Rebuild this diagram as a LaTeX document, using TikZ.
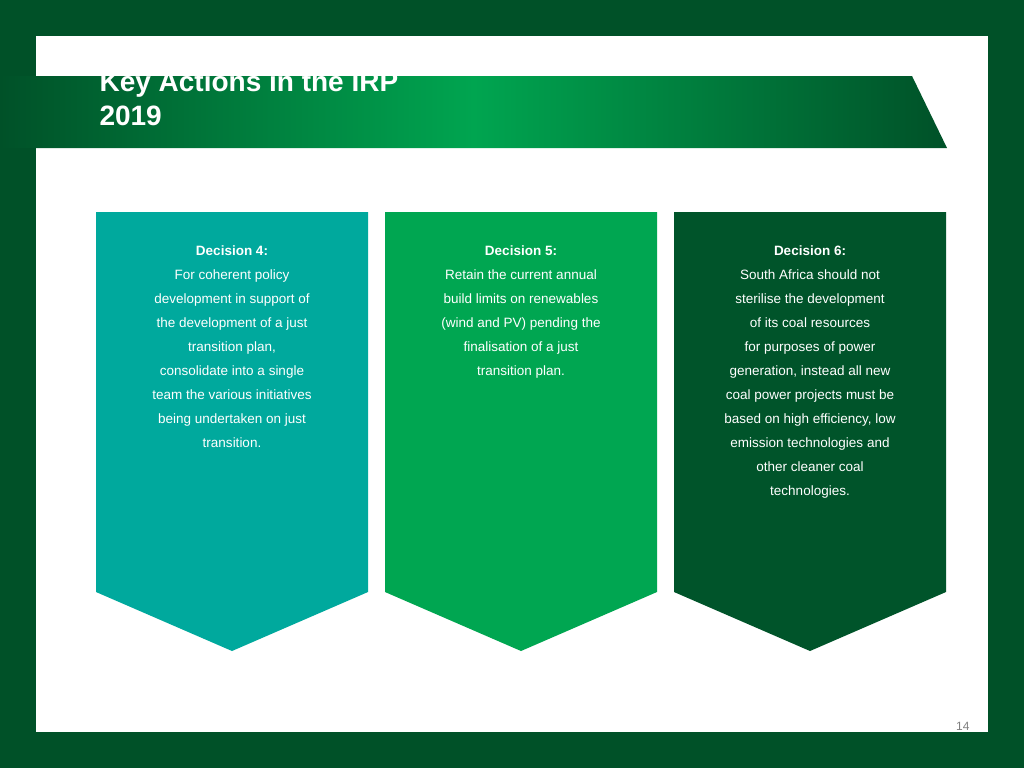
\documentclass[tikz,border=0pt]{standalone}
\usepackage{fontspec}
\setmainfont{Liberation Sans}
\definecolor{bgdark}{HTML}{005128}
\definecolor{teal}{HTML}{00A99D}
\definecolor{midgreen}{HTML}{00A651}
\definecolor{darkg}{HTML}{00542A}
\definecolor{bright}{HTML}{00A550}
\tikzset{
 txt/.style={text=white,align=center,font=\fontsize{13.5}{24}\selectfont,anchor=north},
 head/.style={font=\fontsize{13.5}{24}\selectfont\bfseries}
}
\begin{document}
\begin{tikzpicture}[x=1pt,y=-1pt]
\useasboundingbox (0,0) rectangle (1024,768);
\fill[bgdark] (0,0) rectangle (1024,768);
\fill[white] (36,36) rectangle (988,732);
% banner
\begin{scope}
\clip (0,76) -- (912,76) -- (947,148) -- (0,148) -- cycle;
\shade[left color=bgdark, right color=bgdark, middle color=bright] (0,76) rectangle (947,148);
\node[anchor=base west,text=white,font=\fontsize{28}{34}\selectfont\bfseries,align=left] (title) at (96,125) {Key Actions in the IRP\\2019};
\end{scope}
% chevrons
\fill[teal] (96,212) -- (368,212) -- (368,592) -- (232,651) -- (96,592) -- cycle;
\fill[midgreen] (385,212) -- (657,212) -- (657,592) -- (521,651) -- (385,592) -- cycle;
\fill[darkg] (674,212) -- (946,212) -- (946,592) -- (810,651) -- (674,592) -- cycle;
\node[txt] (d4) at (232,242) {{\bfseries Decision 4:}\\For coherent policy\\development in support of\\the development of a just\\transition plan,\\consolidate into a single\\team the various initiatives\\being undertaken on just\\transition.};
\node[txt] (d5) at (521,242) {{\bfseries Decision 5:}\\Retain the current annual\\build limits on renewables\\(wind and PV) pending the\\finalisation of a just\\transition plan.};
\node[txt] (d6) at (810,242) {{\bfseries Decision 6:}\\South Africa should not\\sterilise the development\\of its coal resources\\for purposes of power\\generation, instead all new\\coal power projects must be\\based on high efficiency, low\\emission technologies and\\other cleaner coal\\technologies.};
\node[anchor=base east,text=gray,font=\fontsize{12}{14}\selectfont] (pg) at (973,730) {14};
\end{tikzpicture}
\end{document}
